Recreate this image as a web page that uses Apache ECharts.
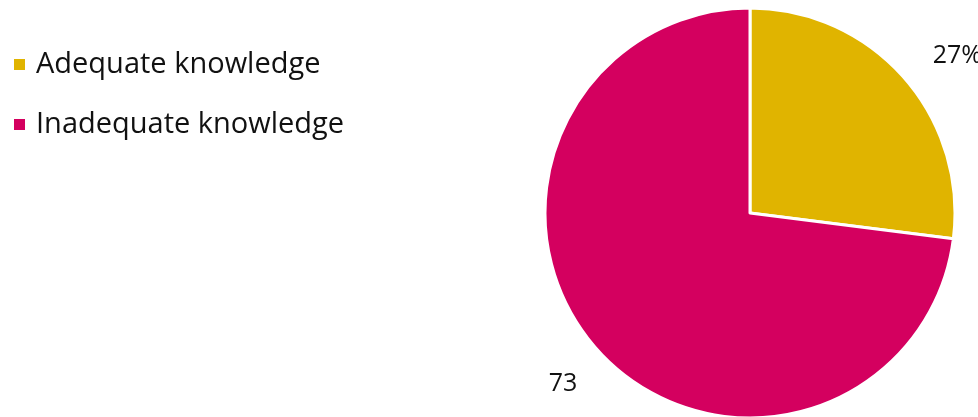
<!DOCTYPE html>
<html>
<head>
<meta charset="utf-8">
<script src="https://cdn.jsdelivr.net/npm/echarts@6/dist/echarts.min.js"></script>
<style>
  html, body { margin: 0; padding: 0; background: #fff; }
  #chart { width: 978px; height: 417px; }
</style>
</head>
<body>
<div id="chart"></div>
<script>
// Knowledge levels, share of respondents (%)
const categories = ['Adequate knowledge', 'Inadequate knowledge'];
const shares = [27, 73];
const sliceLabels = ['27%', '73'];
const sliceColors = ['#E0B400', '#D4005F'];

const FONT = '"Open Sans", Lato, sans-serif';

const chart = echarts.init(document.getElementById('chart'), null, { renderer: 'canvas' });

chart.setOption({
  animation: false,
  backgroundColor: '#ffffff',
  legend: {
    orient: 'vertical',
    left: 7,
    top: 45,
    itemWidth: 13,
    itemHeight: 13,
    itemGap: 31,
    icon: 'rect',
    selectedMode: false,
    textStyle: {
      fontFamily: FONT,
      fontSize: 29,
      color: '#111111',
      padding: [0, 0, 0, 5]
    },
    data: categories
  },
  series: [{
    type: 'pie',
    center: [750, 213],
    radius: [0, 205],
    startAngle: 90,
    clockwise: true,
    avoidLabelOverlap: false,
    itemStyle: { borderColor: '#ffffff', borderWidth: 3 },
    label: {
      show: true,
      position: 'outside',
      fontFamily: FONT,
      fontSize: 25,
      color: '#111111',
      overflow: 'none',
      formatter: p => sliceLabels[p.dataIndex]
    },
    labelLine: { show: false, length: 32, length2: 0 },
    // the lower label sits a little further down the rim than the slice bisector
    labelLayout: p => (p.dataIndex === 1 ? { dx: 10, dy: 14 } : {}),
    emphasis: { disabled: true },
    data: categories.map((name, i) => ({
      name,
      value: shares[i],
      itemStyle: { color: sliceColors[i] }
    }))
  }]
});
</script>
</body>
</html>
